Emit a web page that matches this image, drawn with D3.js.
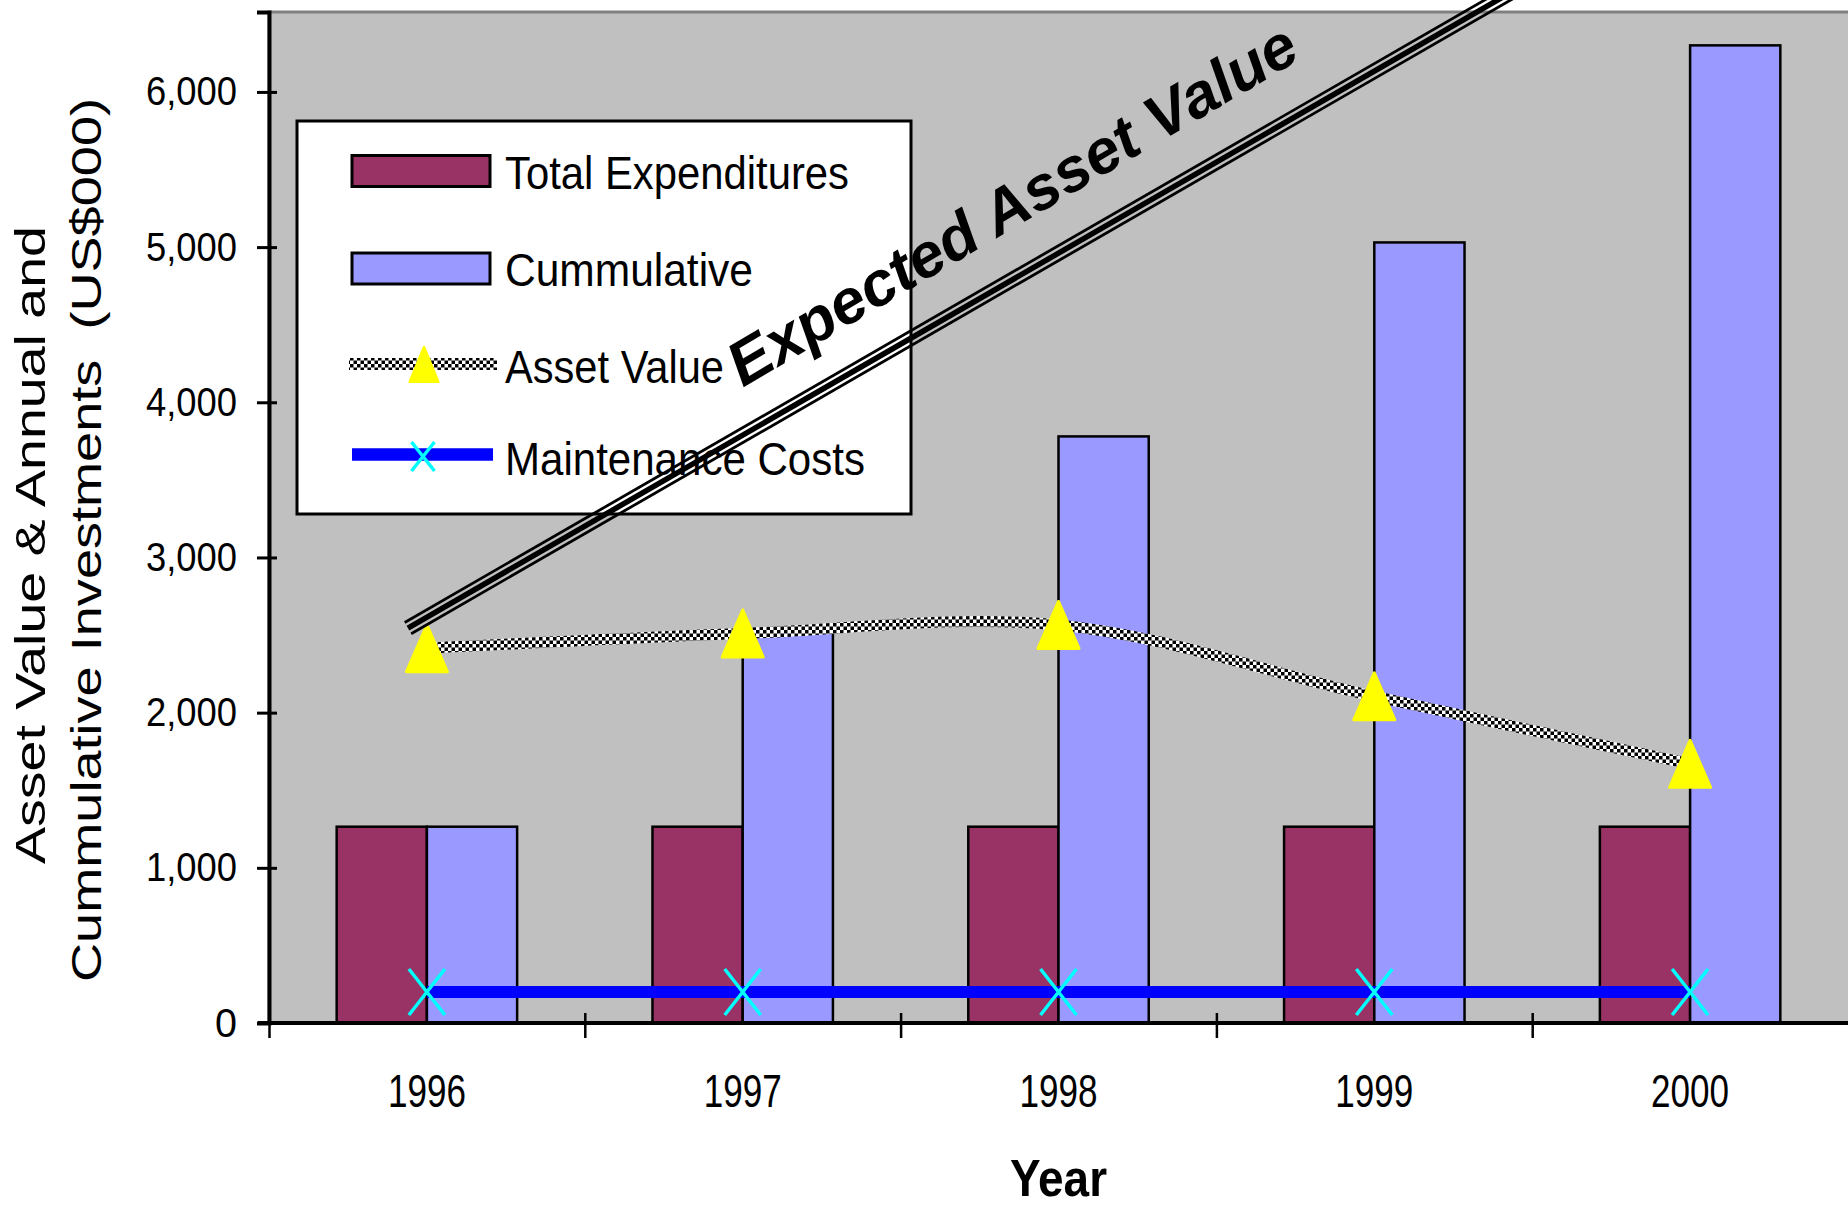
<!DOCTYPE html>
<html>
<head>
<meta charset="utf-8">
<title>Asset value and investments</title>
<script src="https://cdn.jsdelivr.net/npm/d3@7"></script>
<style>
  body { margin: 0; background: #fff; }
  svg { display: block; }
  text { font-family: "Liberation Sans Narrow", "Liberation Sans", Arial, sans-serif; fill: #000; }
</style>
</head>
<body>
<svg id="chart" width="1848" height="1208"></svg>
<script>
// data (US$000)
const years = ["1996", "1997", "1998", "1999", "2000"];
const totalExpenditures = [1265, 1265, 1265, 1265, 1265];
const cumulative = [1265, 2530, 3780, 5030, 6300];
const assetValue = [2415, 2510, 2565, 2105, 1670];
const maintenanceCosts = [200, 200, 200, 200, 200];
const yTicks = [0, 1000, 2000, 3000, 4000, 5000, 6000];
// hand drawn "expected" arrow: [category position, value]
const expectedLine = [[-0.06, 2545], [3.44, 6650]];
const legendLabels = ["Total Expenditures", "Cummulative", "Asset Value", "Maintenance Costs"];

const pLeft = 269, pTop = 12, pRight = 1848, pBottom = 1023;
const yMax = 6515;

const svg = d3.select("#chart");
const x = d3.scaleBand().domain(years).range([pLeft, pRight]);
const xPos = d3.scaleLinear().domain([-0.5, years.length - 0.5]).range([pLeft, pRight]);
const y = d3.scaleLinear().domain([0, yMax]).range([pBottom, pTop]);
const barW = x.bandwidth() / 3.5;
const cx = d => x(d) + x.bandwidth() / 2;

function fit(sel, len) {
    sel.attr("textLength", len).attr("lengthAdjust", "spacingAndGlyphs");
}

// checker pattern for the asset value line
const defs = svg.append("defs");
const pat = defs.append("pattern").attr("id", "checker")
    .attr("patternUnits", "userSpaceOnUse").attr("width", 7).attr("height", 7);
pat.append("rect").attr("width", 7).attr("height", 7).attr("fill", "#fff");
pat.append("rect").attr("width", 3.5).attr("height", 3.5).attr("fill", "#000");
pat.append("rect").attr("x", 3.5).attr("y", 3.5).attr("width", 3.5).attr("height", 3.5).attr("fill", "#000");

// plot area
svg.append("rect")
    .attr("x", pLeft).attr("y", pTop)
    .attr("width", pRight - pLeft + 5).attr("height", pBottom - pTop)
    .attr("fill", "#c0c0c0").attr("stroke", "#808080").attr("stroke-width", 3);

// bars
svg.append("g").selectAll("rect")
    .data(years).join("rect")
    .attr("x", d => cx(d) - barW)
    .attr("y", (d, i) => y(totalExpenditures[i]))
    .attr("width", barW)
    .attr("height", (d, i) => y(0) - y(totalExpenditures[i]))
    .attr("fill", "#993366").attr("stroke", "#000").attr("stroke-width", 2.5);

svg.append("g").selectAll("rect")
    .data(years).join("rect")
    .attr("x", d => cx(d))
    .attr("y", (d, i) => y(cumulative[i]))
    .attr("width", barW)
    .attr("height", (d, i) => y(0) - y(cumulative[i]))
    .attr("fill", "#9999ff").attr("stroke", "#000").attr("stroke-width", 2.5);

// axes
const yAxis = svg.append("g")
    .attr("transform", `translate(${pLeft},0)`)
    .call(d3.axisLeft(y).tickValues(yTicks).tickSize(12).tickPadding(20).tickFormat(d3.format(",")));
yAxis.select(".domain").attr("stroke", "#000").attr("stroke-width", 4);
yAxis.selectAll(".tick line").attr("x1", 8).attr("x2", -12).attr("stroke-width", 3);
yAxis.selectAll(".tick text")
    .attr("font-size", 40).attr("dy", 13)
    .style("font-family", "'Liberation Sans', Arial, sans-serif")
    .each(function () { fit(d3.select(this), this.textContent.length > 1 ? 91 : 22); });

const xAxis = svg.append("g")
    .attr("transform", `translate(0,${pBottom})`)
    .call(d3.axisBottom(xPos).tickValues([-0.5, 0.5, 1.5, 2.5, 3.5]).tickSize(15).tickFormat(""));
xAxis.select(".domain").attr("d", `M${pLeft - 11},0H${pRight}`).attr("stroke", "#000").attr("stroke-width", 4);
xAxis.selectAll(".tick line").attr("y1", (d, i) => i === 0 ? 0 : -10).attr("stroke-width", 2.5);

const xLabels = svg.append("g")
    .attr("transform", `translate(0,${pBottom})`)
    .call(d3.axisBottom(x).tickSize(0).tickPadding(0));
xLabels.select(".domain").remove();
xLabels.selectAll(".tick text")
    .attr("y", 84).attr("dy", 0).attr("font-size", 47)
    .each(function () { fit(d3.select(this), 78); });

// maintenance costs line
svg.append("path")
    .datum(maintenanceCosts)
    .attr("d", d3.line().x((d, i) => cx(years[i])).y(d => y(d)))
    .attr("fill", "none").attr("stroke", "#0000ff").attr("stroke-width", 12);

function xMark(g, w, h) {
    g.append("path")
        .attr("d", `M${-w / 2},${-h / 2}L${w / 2},${h / 2}M${-w / 2},${h / 2}L${w / 2},${-h / 2}`)
        .attr("stroke", "#00ffff").attr("stroke-width", 3.5).attr("fill", "none");
}
svg.append("g").selectAll("g")
    .data(maintenanceCosts).join("g")
    .attr("transform", (d, i) => `translate(${cx(years[i])},${y(d)})`)
    .each(function () { xMark(d3.select(this), 36, 46); });

// asset value line
svg.append("path")
    .datum(assetValue)
    .attr("d", d3.line().x((d, i) => cx(years[i])).y(d => y(d)).curve(d3.curveCatmullRom.alpha(0.5)))
    .attr("fill", "none").attr("stroke", "url(#checker)").attr("stroke-width", 11);

function tri(g, w, h) {
    g.append("path")
        .attr("d", `M0,${-h / 2}L${w / 2},${h / 2}L${-w / 2},${h / 2}Z`)
        .attr("fill", "#ffff00").attr("stroke", "#ffff00")
        .attr("stroke-width", 3).attr("stroke-linejoin", "round");
}
svg.append("g").selectAll("g")
    .data(assetValue).join("g")
    .attr("transform", (d, i) => `translate(${cx(years[i])},${y(d)})`)
    .each(function () { tri(d3.select(this), 41, 47); });

// legend
const lg = svg.append("g");
lg.append("rect").attr("x", 297).attr("y", 121).attr("width", 614).attr("height", 393)
    .attr("fill", "#fff").attr("stroke", "#000").attr("stroke-width", 3);
const rowY = [171, 268.5, 364, 454.5];
const textY = [189, 286, 383, 475];
const textW = [344, 248, 219, 360];
lg.append("rect").attr("x", 352).attr("y", rowY[0] - 15.5).attr("width", 138).attr("height", 31)
    .attr("fill", "#993366").attr("stroke", "#000").attr("stroke-width", 3);
lg.append("rect").attr("x", 352).attr("y", rowY[1] - 15.5).attr("width", 138).attr("height", 31)
    .attr("fill", "#9999ff").attr("stroke", "#000").attr("stroke-width", 3);
lg.append("line").attr("x1", 349).attr("x2", 497).attr("y1", rowY[2]).attr("y2", rowY[2])
    .attr("stroke", "url(#checker)").attr("stroke-width", 12);
lg.append("g").attr("transform", `translate(424,${rowY[2] + 0.5})`).call(g => tri(g, 28, 34));
lg.append("line").attr("x1", 352).attr("x2", 493).attr("y1", rowY[3]).attr("y2", rowY[3])
    .attr("stroke", "#0000ff").attr("stroke-width", 12.5);
lg.append("g").attr("transform", `translate(423,${rowY[3] + 2})`).call(g => xMark(g, 23, 29));
lg.selectAll("text.lbl")
    .data(legendLabels).join("text")
    .attr("class", "lbl")
    .attr("x", 505).attr("y", (d, i) => textY[i])
    .attr("font-size", 47)
    .text(d => d)
    .each(function (d, i) { fit(d3.select(this), textW[i]); });

// expected asset value arrow: three parallel strokes
const e0 = [xPos(expectedLine[0][0]), y(expectedLine[0][1])];
const e1 = [xPos(expectedLine[1][0]), y(expectedLine[1][1])];
const ang = Math.atan2(e1[1] - e0[1], e1[0] - e0[0]);
const ux = Math.cos(ang), uy = Math.sin(ang);
const nx = uy, ny = -ux; // normal pointing up-left
const eg = svg.append("g");
[[-6.5, 2.8], [0, 5.5], [6.5, 2.8]].forEach(([off, w]) => {
    eg.append("line")
        .attr("x1", e0[0] + off * nx).attr("y1", e0[1] + off * ny)
        .attr("x2", e1[0] + off * nx).attr("y2", e1[1] + off * ny)
        .attr("stroke", "#000").attr("stroke-width", w);
});
const tx = e0[0] + 410 * ux + 41 * nx, ty = e0[1] + 410 * uy + 41 * ny;
eg.append("text")
    .attr("transform", `translate(${tx},${ty}) rotate(-30.5)`)
    .attr("font-size", 62).attr("font-weight", "bold").attr("font-style", "italic")
    .style("font-family", "'Liberation Sans', Arial, sans-serif")
    .text("Expected Asset Value")
    .call(s => fit(s, 650));

// axis titles
const yt = svg.append("g");
yt.append("text")
    .attr("transform", "translate(45,545) rotate(-90)")
    .attr("text-anchor", "middle").attr("font-size", 42)
    .text("Asset Value & Annual and")
    .call(s => fit(s, 638));
yt.append("text")
    .attr("transform", "translate(101,540) rotate(-90)")
    .attr("text-anchor", "middle").attr("font-size", 42)
    .attr("xml:space", "preserve")
    .text("Cummulative Investments  (US$000)")
    .call(s => fit(s, 884));

svg.append("text")
    .attr("x", cx("1998")).attr("y", 1196)
    .attr("text-anchor", "middle").attr("font-size", 52).attr("font-weight", "bold")
    .text("Year")
    .call(s => fit(s, 97));
</script>
</body>
</html>
